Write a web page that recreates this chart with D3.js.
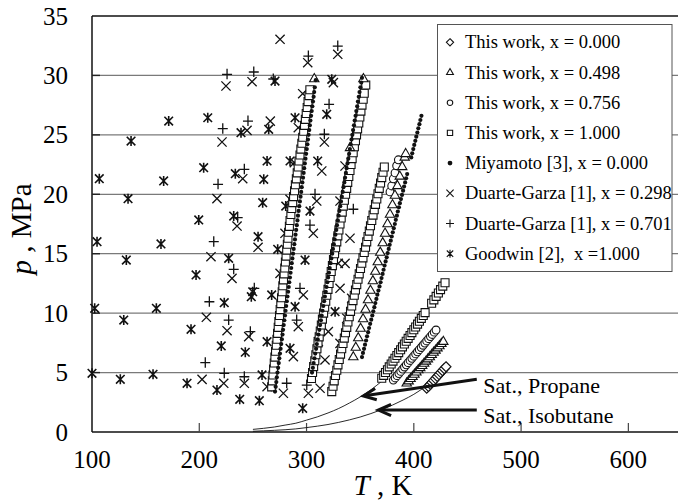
<!DOCTYPE html>
<html>
<head>
<meta charset="utf-8">
<title>p-T diagram, propane + isobutane</title>
<script src="https://d3js.org/d3.v7.min.js"></script>
<style>
  body { margin: 0; background: #fff; }
  svg { display: block; font-family: "Liberation Serif", "Times New Roman", serif; }
</style>
</head>
<body>
<div id="chart"></div>
<script>
// ---- data, all points are [T in K, p in MPa] ----

// This work, x = 0.000 (diamonds)
const thisWork000 = [[412.0,3.68],[413.6,3.84],[415.3,4.01],[416.9,4.17],[418.5,4.34],[420.2,4.50],
  [421.8,4.67],[423.5,4.83],[425.1,5.00],[426.7,5.16],[428.4,5.33],[430.0,5.49]];

// This work, x = 0.498 (triangles)
const thisWork498 = [[343.6,6.3],[345.9,7.1],[348.2,7.9],[350.4,8.7],[352.7,9.5],[355.0,10.3],[357.3,11.1],
  [359.6,11.9],[361.8,12.7],[364.1,13.5],[366.4,14.3],[368.7,15.1],[371.0,15.9],[373.2,16.7],[375.5,17.5],
  [377.8,18.3],[380.1,19.1],[382.4,19.9],[384.7,20.7],[386.9,21.5],[389.2,22.3],[391.5,23.1],[392.4,23.4],
  [340.5,23.9],[307.2,29.7],[353.0,29.7],
  [393.4,4.10],[395.2,4.28],[397.0,4.47],[398.8,4.65],[400.6,4.84],[402.4,5.02],[404.2,5.21],[406.0,5.39],
  [407.8,5.57],[409.6,5.76],[411.4,5.94],[413.1,6.13],[414.9,6.31],[416.7,6.49],[418.5,6.68],[420.3,6.86],
  [422.1,7.05],[423.9,7.23],[425.7,7.42],[427.5,7.60]];

// This work, x = 0.756 (circles)
const thisWork756 = [[377.8,20.2],[379.4,20.7],[380.9,21.3],[382.5,21.8],[384.0,22.4],[385.6,22.9],
  [380.9,4.37],[382.6,4.55],[384.4,4.74],[386.1,4.92],[387.8,5.10],[389.6,5.29],[391.3,5.47],[393.0,5.65],
  [394.7,5.83],[396.5,6.02],[398.2,6.20],[399.9,6.38],[401.7,6.57],[403.4,6.75],[405.1,6.93],[406.9,7.11],
  [408.6,7.30],[410.3,7.48],[412.0,7.66],[413.8,7.85],[415.5,8.03],[417.2,8.21],[419.0,8.40],[420.7,8.58]];

// This work, x = 1.000 (squares)
const thisWork100 = [
  [267.5,3.8],[268.1,4.3],[268.7,4.8],[269.3,5.3],[269.9,5.8],[270.5,6.3],[271.1,6.8],[271.8,7.3],
  [272.4,7.8],[273.0,8.3],[273.6,8.8],[274.2,9.3],[274.8,9.8],[275.4,10.3],[276.0,10.8],[276.7,11.3],
  [277.3,11.8],[277.9,12.3],[278.5,12.8],[279.1,13.3],[279.7,13.8],[280.3,14.3],[280.9,14.8],[281.5,15.3],
  [282.1,15.8],[282.7,16.3],[283.3,16.8],[284.0,17.3],[284.6,17.8],[285.4,18.3],[286.2,18.8],[287.1,19.3],
  [287.9,19.8],[288.8,20.3],[289.6,20.8],[290.5,21.3],[291.3,21.8],[292.2,22.3],[293.0,22.8],[293.9,23.3],
  [294.7,23.8],[295.6,24.3],[296.4,24.8],[297.3,25.3],[298.1,25.8],[298.9,26.3],[299.7,26.8],[300.6,27.3],
  [301.4,27.8],[302.3,28.3],[303.1,28.8],
  [304.6,4.5],[305.6,5.0],[306.6,5.5],[307.7,6.0],[308.7,6.5],[309.7,7.0],[310.7,7.5],[311.8,8.0],
  [312.8,8.5],[313.8,9.0],[314.8,9.5],[315.9,10.0],[316.9,10.5],[317.9,11.0],[318.9,11.5],[320.0,12.0],
  [321.0,12.5],[322.0,13.0],[323.0,13.5],[324.1,14.0],[325.1,14.5],[326.1,15.0],[327.1,15.5],[328.2,16.0],
  [329.2,16.5],[330.2,17.0],[331.2,17.5],[332.3,18.0],[333.3,18.5],[334.3,19.0],[335.3,19.5],[336.4,20.0],
  [337.4,20.5],[338.4,21.0],[339.4,21.5],[340.5,22.0],[341.5,22.5],[342.5,23.0],[343.5,23.5],[344.6,24.0],
  [345.6,24.5],[346.6,25.0],[347.6,25.5],[348.7,26.0],[349.7,26.5],[350.7,27.0],[351.7,27.5],[352.8,28.0],
  [353.8,28.5],[355.2,29.2],
  [323.5,3.4],[324.7,3.85],[325.8,4.3],[327.0,4.75],[328.2,5.2],[329.3,5.65],[330.5,6.1],[331.7,6.55],
  [332.8,7.0],[334.0,7.45],[335.2,7.9],[336.3,8.35],[337.5,8.8],[338.6,9.25],[339.8,9.7],[341.0,10.15],
  [342.1,10.6],[343.3,11.05],[344.5,11.5],[345.6,11.95],[346.8,12.4],[348.0,12.85],[349.1,13.3],[350.3,13.75],
  [351.5,14.2],[352.6,14.65],[353.8,15.1],[355.0,15.55],[356.1,16.0],[357.3,16.45],[358.5,16.9],[359.6,17.35],
  [360.8,17.8],[362.0,18.25],[363.1,18.7],[364.3,19.15],[365.5,19.6],[366.6,20.05],[367.8,20.5],[369.0,20.95],
  [370.1,21.4],[371.3,21.85],[372.5,22.3],
  [370.1,4.52],[371.9,4.76],[373.6,5.00],[375.4,5.24],[377.1,5.48],[378.9,5.72],[380.6,5.96],[382.4,6.20],
  [384.2,6.44],[385.9,6.68],[387.7,6.92],[389.4,7.16],[391.2,7.40],[392.9,7.64],[394.7,7.88],[396.5,8.12],
  [398.2,8.36],[400.0,8.60],[401.7,8.84],[403.5,9.08],[405.2,9.32],[407.0,9.56],[408.8,9.80],[410.5,10.04],
  [416.6,10.83],[418.7,11.12],[420.8,11.41],[422.9,11.70],[424.9,11.98],[427.0,12.27],[429.1,12.56]];

// Miyamoto [3], x = 0.000 (dots)
const miyamoto = [
  [270.6,3.4],[271.2,3.8],[271.8,4.2],[272.3,4.6],[272.9,5.0],[273.5,5.4],[274.1,5.8],[274.6,6.2],
  [275.2,6.6],[275.8,7.0],[276.4,7.4],[277.0,7.8],[277.6,8.2],[278.1,8.6],[278.7,9.0],[279.3,9.4],
  [279.9,9.8],[280.4,10.2],[281.0,10.6],[281.6,11.0],[282.2,11.4],[282.8,11.8],[283.4,12.2],[283.9,12.6],
  [284.5,13.0],[285.1,13.4],[285.7,13.8],[286.2,14.2],[286.8,14.6],[287.4,15.0],[288.0,15.4],[288.6,15.8],
  [289.2,16.2],[289.7,16.6],[290.3,17.0],[290.9,17.4],[291.5,17.8],[292.0,18.2],[292.6,18.6],[293.2,19.0],
  [293.8,19.4],[294.4,19.8],[295.0,20.2],[295.5,20.6],[296.1,21.0],[296.7,21.4],[297.3,21.8],[297.8,22.2],
  [298.4,22.6],[299.0,23.0],[299.6,23.4],[300.2,23.8],[300.8,24.2],[301.3,24.6],[301.9,25.0],[302.5,25.4],
  [303.1,25.8],[303.6,26.2],[304.2,26.6],[304.8,27.0],[305.4,27.4],[306.0,27.8],[306.6,28.2],[307.1,28.6],
  [307.7,29.0],[308.6,29.6],
  [305.1,5.0],[305.9,5.4],[306.6,5.8],[307.4,6.2],[308.1,6.6],[308.9,7.0],[309.6,7.4],[310.4,7.8],
  [311.1,8.2],[311.9,8.6],[312.6,9.0],[313.4,9.4],[314.1,9.8],[314.9,10.2],[315.6,10.6],[316.4,11.0],
  [317.1,11.4],[317.9,11.8],[318.6,12.2],[319.4,12.6],[320.1,13.0],[320.9,13.4],[321.6,13.8],[322.4,14.2],
  [323.1,14.6],[323.9,15.0],[324.6,15.4],[325.4,15.8],[326.2,16.2],[326.9,16.6],[327.7,17.0],[328.4,17.4],
  [329.2,17.8],[329.9,18.2],[330.6,18.6],[331.4,19.0],[332.1,19.4],[332.9,19.8],[333.7,20.2],[334.4,20.6],
  [335.2,21.0],[335.9,21.4],[336.7,21.8],[337.4,22.2],[338.2,22.6],[338.9,23.0],[339.7,23.4],[340.4,23.8],
  [341.2,24.2],[341.9,24.6],[342.7,25.0],[343.4,25.4],[344.2,25.8],[344.9,26.2],[345.7,26.6],[346.4,27.0],
  [347.2,27.4],[347.9,27.8],[348.7,28.2],[349.4,28.6],[350.2,29.0],[351.0,29.4],[351.7,29.8],
  [351.7,6.3],[352.6,6.65],[353.6,7.0],[354.5,7.35],[355.5,7.7],[356.4,8.05],[357.4,8.4],[358.3,8.75],
  [359.3,9.1],[360.3,9.45],[361.3,9.8],[362.2,10.15],[363.2,10.5],[364.1,10.85],[365.1,11.2],[366.0,11.55],
  [367.0,11.9],[368.0,12.25],[369.0,12.6],[369.9,12.95],[370.9,13.3],[371.8,13.65],[372.7,14.0],[373.7,14.35],
  [374.7,14.7],[375.6,15.05],[376.6,15.4],[377.5,15.75],[378.5,16.1],[379.4,16.45],[380.4,16.8],[381.3,17.15],
  [382.3,17.5],[383.2,17.85],[384.2,18.2],[385.1,18.55],[386.1,18.9],[387.0,19.25],[388.0,19.6],[389.0,19.95],
  [390.0,20.3],[390.9,20.65],[391.9,21.0],[392.8,21.35],[393.8,21.7],[397.6,23.1],[398.5,23.45],[399.5,23.8],
  [400.4,24.15],[401.4,24.5],[402.3,24.85],[403.3,25.2],[404.2,25.55],[405.2,25.9],[406.1,26.25],[407.1,26.6]];

// Duarte-Garza [1], x = 0.298 (crosses)
const duarte298 = [[224.9,29.11],[249.2,29.47],[221.2,24.40],[244.5,25.38],[266.2,26.16],[240.5,21.31],
  [216.5,19.63],[235.2,17.33],[254.8,15.54],[210.9,14.75],[230.5,12.93],[206.6,9.65],[225.9,8.52],
  [246.1,8.02],[202.6,4.43],[222.8,4.10],[242.0,4.10],[263.2,3.81],[275.3,33.04],[301.1,31.07],
  [329.1,31.78],[296.4,28.46],[325.0,29.39],[292.3,25.60],[316.6,24.40],[288.6,22.66],[314.2,21.96],
  [335.9,22.38],[284.6,19.58],[309.5,19.43],[331.2,19.43],[279.9,16.72],[306.3,16.72],[340.5,16.30],
  [275.3,13.35],[329.6,14.19],[335.9,14.19],[297.0,11.53],[331.2,12.09],[292.3,8.86],[342.1,11.25],
  [337.5,9.57],[320.3,8.44],[287.7,6.34],[317.2,6.06],[311.0,7.60],[331.2,7.46],[278.4,3.26],
  [301.7,3.26],[312.6,3.68]];

// Duarte-Garza [1], x = 0.701 (plus signs)
const duarte701 = [[225.9,30.09],[250.8,30.29],[221.9,25.52],[245.4,26.16],[242.0,22.10],[217.5,20.84],
  [235.8,18.03],[213.5,16.01],[232.1,13.69],[251.3,12.09],[209.4,10.96],[227.4,9.42],[247.6,8.44],
  [205.6,5.83],[223.3,4.94],[242.0,4.65],[301.7,31.63],[329.1,32.47],[321.0,27.57],[316.6,25.05],
  [307.9,20.00],[343.6,18.74],[303.2,17.41],[293.9,12.09],[290.8,9.42],[312.6,8.16],[281.5,4.10],
  [300.2,3.95],[269.0,29.70]];

// Goodwin [2], x = 1.000 (asterisks)
const goodwin = [[171.5,26.16],[207.9,26.44],[136.4,24.48],[106.8,21.31],[166.8,21.12],[204.1,22.24],
  [233.6,21.73],[260.1,21.26],[263.2,22.80],[238.9,25.18],[264.7,25.47],[133.6,19.63],[259.1,19.29],
  [199.5,17.84],[232.1,18.17],[104.7,16.01],[164.3,15.82],[254.8,16.43],[132.0,14.47],[227.4,14.61],
  [197.0,13.21],[249.8,11.80],[248.5,11.38],[102.5,10.41],[160.0,10.41],[223.3,10.88],[129.6,9.42],
  [192.3,8.64],[263.2,7.60],[220.5,7.24],[242.9,6.71],[100.0,4.94],[126.4,4.43],[156.9,4.85],
  [258.5,4.80],[188.6,4.10],[216.5,3.53],[237.7,2.75],[256.0,2.63],[296.4,1.99],[270.6,29.53],
  [323.5,29.67],[318.8,26.73],[289.3,26.44],[284.6,22.80],[310.4,22.80],[280.6,19.01],[303.2,18.59],
  [273.1,15.37],[298.6,14.47],[267.5,11.53],[289.3,10.54],[326.6,10.12],[284.6,7.04]];

// saturation curves
const satPropane = [[250,0.22],[260,0.31],[270,0.42],[280,0.58],[290,0.74],[300,1.00],[310,1.27],
  [320,1.60],[330,1.98],[340,2.44],[350,2.95],[360,3.55],[369.8,4.25]];
const satIsobutane = [[250,0.06],[260,0.10],[270,0.14],[280,0.19],[290,0.26],[300,0.37],[310,0.49],
  [320,0.63],[330,0.81],[340,1.02],[350,1.26],[360,1.55],[370,1.88],[380,2.26],[390,2.69],[400,3.17],
  [407.8,3.63]];

// annotation arrows: [from, to] and their labels
const arrowLines = [[[458.7,4.43],[352.9,3.03]], [[458.7,1.85],[366.9,1.85]]];
const arrowLabels = [["Sat., Propane",464.8,3.31], ["Sat., Isobutane",464.8,0.78]];

const xTicks = [100, 200, 300, 400, 500, 600];
const yTicks = [0, 5, 10, 15, 20, 25, 30, 35];
const legendLabels = ["This work, x = 0.000", "This work, x = 0.498", "This work, x = 0.756",
  "This work, x = 1.000", "Miyamoto [3], x = 0.000", "Duarte-Garza [1], x = 0.298",
  "Duarte-Garza [1], x = 0.701", "Goodwin [2],  x =1.000"];

// ---- chart ----
const width = 678, height = 500;
const svg = d3.select("#chart").append("svg")
    .attr("width", width)
    .attr("height", height);

const x = d3.scaleLinear().domain([100, 650]).range([92, 682]);
const y = d3.scaleLinear().domain([0, 35]).range([432, 16]);

// gridlines
svg.append("g")
    .selectAll("line")
    .data(yTicks.filter(v => v > 0 && v < 35))
    .enter().append("line")
    .attr("x1", x(100)).attr("x2", width)
    .attr("y1", d => y(d)).attr("y2", d => y(d))
    .style("stroke", "#7a7a7a")
    .style("stroke-width", 1.2);

// frame: top, left, bottom
svg.append("line").attr("x1", x(100)).attr("x2", width).attr("y1", y(35)).attr("y2", y(35))
    .style("stroke", "#111").style("stroke-width", 1.3);
svg.append("line").attr("x1", x(100)).attr("x2", x(100)).attr("y1", y(35)).attr("y2", y(0))
    .style("stroke", "#111").style("stroke-width", 1.5);
svg.append("line").attr("x1", x(100)).attr("x2", width).attr("y1", y(0)).attr("y2", y(0))
    .style("stroke", "#111").style("stroke-width", 1.5);

// inward ticks
svg.append("g").selectAll("line")
    .data(xTicks.slice(1))
    .enter().append("line")
    .attr("x1", d => x(d)).attr("x2", d => x(d))
    .attr("y1", y(0)).attr("y2", y(0) - 9)
    .style("stroke", "#444").style("stroke-width", 1.2);
svg.append("g").selectAll("line")
    .data(yTicks.slice(1, -1))
    .enter().append("line")
    .attr("x1", x(100)).attr("x2", x(100) + 8)
    .attr("y1", d => y(d)).attr("y2", d => y(d))
    .style("stroke", "#222").style("stroke-width", 1.4);

// tick labels
svg.append("g").selectAll("text")
    .data(xTicks)
    .enter().append("text")
    .attr("x", d => x(d))
    .attr("y", 468)
    .attr("text-anchor", "middle")
    .style("font-size", "25px")
    .text(d => d);
svg.append("g").selectAll("text")
    .data(yTicks)
    .enter().append("text")
    .attr("x", 68)
    .attr("y", d => y(d) + 8.5)
    .attr("text-anchor", "end")
    .style("font-size", "25px")
    .text(d => d);

// axis titles
const xt = svg.append("text").attr("x", 383).attr("y", 495)
    .attr("text-anchor", "middle").style("font-size", "29px");
xt.append("tspan").style("font-style", "italic").text("T");
xt.append("tspan").text(" , K");
const yt = svg.append("text").attr("transform", "translate(31,229) rotate(-90)")
    .attr("text-anchor", "middle").style("font-size", "29px");
yt.append("tspan").style("font-style", "italic").text("p");
yt.append("tspan").text(" , MPa");

// saturation curves
const line = d3.line().x(d => x(d[0])).y(d => y(d[1])).curve(d3.curveMonotoneX);
[satPropane, satIsobutane].forEach(s => {
    svg.append("path").attr("d", line(s))
        .style("fill", "none").style("stroke", "#111").style("stroke-width", 0.9);
});

// marker shapes
const shapes = {
    diamond: "M0,-5L5,0L0,5L-5,0Z",
    triangle: d3.symbol().type(d3.symbolTriangle).size(38)(),
    circle: d3.symbol().type(d3.symbolCircle).size(48)(),
    square: d3.symbol().type(d3.symbolSquare).size(64)(),
    cross: "M-4.6,-4.6L4.6,4.6M-4.6,4.6L4.6,-4.6",
    plus: "M-5,0L5,0M0,-5.5L0,5",
    star: "M-4.3,-4.3L4.3,4.3M-4.3,4.3L4.3,-4.3M0,-5L0,5"
};

function drawPoints(data, shape, open, sw) {
    svg.append("g").selectAll("path")
        .data(data)
        .enter().append("path")
        .attr("d", shapes[shape])
        .attr("transform", d => `translate(${x(d[0])},${y(d[1])})`)
        .style("fill", open ? "#fff" : "none")
        .style("stroke", "#111")
        .style("stroke-width", sw);
}

drawPoints(goodwin, "star", false, 1.6);
drawPoints(duarte298, "cross", false, 1.3);
drawPoints(duarte701, "plus", false, 1.3);
drawPoints(thisWork100, "square", true, 1.1);
drawPoints(thisWork756, "circle", true, 1.1);
drawPoints(thisWork498, "triangle", true, 1.1);
drawPoints(thisWork000, "diamond", true, 1.1);

svg.append("g").selectAll("circle")
    .data(miyamoto)
    .enter().append("circle")
    .attr("cx", d => x(d[0]))
    .attr("cy", d => y(d[1]))
    .attr("r", 2.1)
    .style("fill", "#111");

// arrows
arrowLines.forEach(a => {
    const x1 = x(a[0][0]), y1 = y(a[0][1]), x2 = x(a[1][0]), y2 = y(a[1][1]);
    const ang = Math.atan2(y1 - y2, x1 - x2);
    svg.append("line").attr("x1", x1).attr("y1", y1).attr("x2", x2 + 3 * Math.cos(ang)).attr("y2", y2 + 3 * Math.sin(ang))
        .style("stroke", "#111").style("stroke-width", 3);
    const h = 14, spread = 0.42;
    svg.append("path")
        .attr("d", `M${x2 + h * Math.cos(ang + spread)},${y2 + h * Math.sin(ang + spread)}L${x2},${y2}L${x2 + h * Math.cos(ang - spread)},${y2 + h * Math.sin(ang - spread)}`)
        .style("fill", "none").style("stroke", "#111").style("stroke-width", 3);
});
svg.append("g").selectAll("text")
    .data(arrowLabels)
    .enter().append("text")
    .attr("x", d => x(d[1]))
    .attr("y", d => y(d[2]))
    .style("font-size", "22px")
    .text(d => d[0]);

// legend
const legend = svg.append("g");
legend.append("rect")
    .attr("x", 437.5).attr("y", 24.5)
    .attr("width", 234.5).attr("height", 247)
    .style("fill", "#fff").style("stroke", "#555").style("stroke-width", 1);

const legendShapes = [
    ["M0,-3.6L3.6,0L0,3.6L-3.6,0Z", true],
    [d3.symbol().type(d3.symbolTriangle).size(20)(), true],
    [d3.symbol().type(d3.symbolCircle).size(24)(), true],
    [d3.symbol().type(d3.symbolSquare).size(28)(), true],
    [null, true],
    ["M-3.6,-3.6L3.6,3.6M-3.6,3.6L3.6,-3.6", false],
    ["M-4,0L4,0M0,-4L0,4", false],
    ["M-3.2,-3.2L3.2,3.2M-3.2,3.2L3.2,-3.2M0,-4L0,4", false]
];

legendLabels.forEach((label, i) => {
    const cy = 42.3 + i * 30.2;
    const s = legendShapes[i];
    if (s[0] === null) {
        legend.append("circle").attr("cx", 450).attr("cy", cy).attr("r", 2.4).style("fill", "#111");
    } else {
        legend.append("path").attr("d", s[0])
            .attr("transform", `translate(450,${cy})`)
            .style("fill", s[1] ? "#fff" : "none")
            .style("stroke", "#111").style("stroke-width", 1.1);
    }
    legend.append("text")
        .attr("x", 465).attr("y", cy + 6)
        .style("font-size", "18.5px")
        .style("white-space", "pre")
        .text(label);
});
</script>
</body>
</html>
